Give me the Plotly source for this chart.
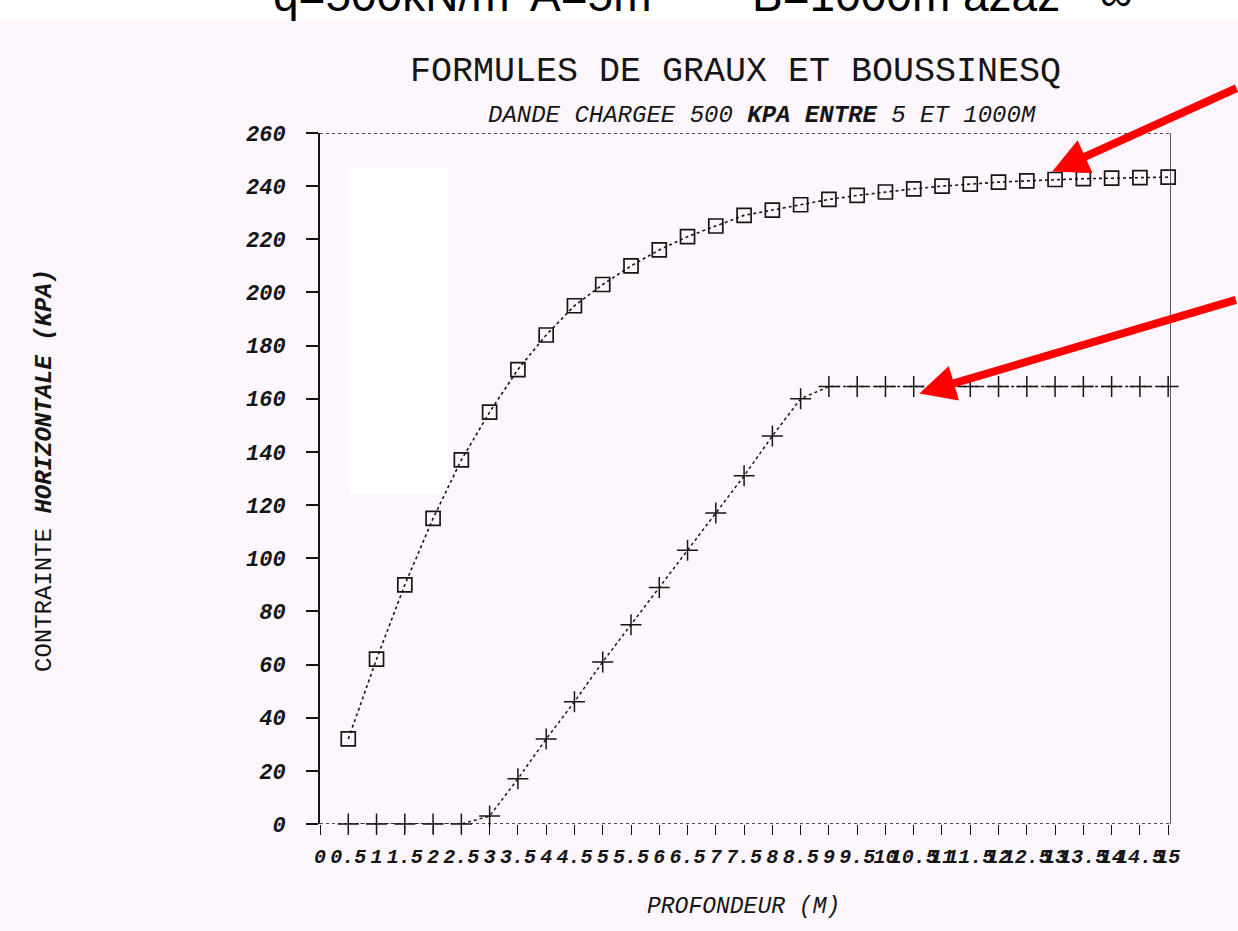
import plotly.graph_objects as go

# Depth (m) and horizontal stress (kPa) for the two formulas
depth = [0.5, 1, 1.5, 2, 2.5, 3, 3.5, 4, 4.5, 5, 5.5, 6, 6.5, 7, 7.5,
         8, 8.5, 9, 9.5, 10, 10.5, 11, 11.5, 12, 12.5, 13, 13.5, 14, 14.5, 15]
boussinesq = [32, 62, 90, 115, 137, 155, 171, 184, 195, 203, 210, 216, 221, 225, 229,
              231, 233, 235, 236.5, 237.8, 239, 240, 240.8, 241.5, 242, 242.5, 242.8, 243, 243.2, 243.4]
graux = [0, 0, 0, 0, 0, 3, 17, 32, 46, 61, 75, 89, 103, 117, 131,
         146, 160, 164.6, 164.6, 164.6, 164.6, 164.6, 164.6, 164.6, 164.6, 164.6, 164.6, 164.6, 164.6, 164.6]

x_ticks = [i * 0.5 for i in range(31)]
x_tick_labels = [("%g" % v) for v in x_ticks]
y_ticks = list(range(0, 261, 20))

BG = "#FDF7FD"
INK = "#151515"
MONO = "Liberation Mono"

fig = go.Figure()

fig.add_trace(go.Scatter(
    x=depth, y=boussinesq, mode="lines+markers",
    line=dict(color=INK, width=1.6, dash="dot"),
    marker=dict(symbol="square-open", size=14, color=INK, line=dict(width=1.7, color=INK)),
    showlegend=False, cliponaxis=False,
))
fig.add_trace(go.Scatter(
    x=depth, y=graux, mode="lines+markers",
    line=dict(color=INK, width=1.5, dash="dot"),
    marker=dict(symbol="cross-thin-open", size=15, color=INK, line=dict(width=1.5, color=INK)),
    showlegend=False, cliponaxis=False,
))

X_MAX = 15.05

shapes = [
    # white strip behind the header line
    dict(type="rect", xref="paper", yref="paper", x0=-1, x1=2, y0=1.165, y1=1.3,
         fillcolor="white", line=dict(width=0), layer="below"),
    # pale patch inside the plot
    dict(type="rect", xref="x", yref="y", x0=0.53, x1=2.25, y0=124, y1=247,
         fillcolor="white", line=dict(width=0), layer="below"),
    # dotted top border
    dict(type="line", xref="x", yref="y", x0=0, x1=X_MAX, y0=260, y1=260,
         line=dict(color=INK, width=1.4, dash="dot")),
    # dotted baseline
    dict(type="line", xref="x", yref="y", x0=0, x1=X_MAX, y0=0, y1=0,
         line=dict(color=INK, width=1.4, dash="dot")),
    # right border
    dict(type="line", xref="x", yref="y", x0=X_MAX, x1=X_MAX, y0=-5, y1=260,
         line=dict(color=INK, width=1.4)),
]

annotations = [
    dict(text="q=500kN/m²", xref="paper", yref="paper", x=-0.057, y=1.159,
         xanchor="left", yanchor="bottom", showarrow=False,
         font=dict(family="Liberation Sans", size=46, color="black")),
    dict(text="A=5m", xref="paper", yref="paper", x=0.245, y=1.159,
         xanchor="left", yanchor="bottom", showarrow=False,
         font=dict(family="Liberation Sans", size=46, color="black")),
    dict(text="B=1000m azaz ~∞", xref="paper", yref="paper", x=0.505, y=1.159,
         xanchor="left", yanchor="bottom", showarrow=False,
         font=dict(family="Liberation Sans", size=46, color="black")),
    dict(text="FORMULES DE GRAUX ET BOUSSINESQ", xref="paper", yref="paper",
         x=0.4888, y=1.0883, xanchor="center", yanchor="middle", showarrow=False,
         font=dict(family=MONO, size=35, color=INK)),
    dict(text="<i>DANDE CHARGEE 500 <b>KPA ENTRE</b> 5 ET 1000M</i>", xref="paper", yref="paper",
         x=0.519, y=1.026, xanchor="center", yanchor="middle", showarrow=False,
         font=dict(family=MONO, size=24, color=INK)),
    dict(text="CONTRAINTE <b><i>HORIZONTALE (KPA)</i></b>", xref="paper", yref="paper",
         x=-0.323, y=0.511, xanchor="center", yanchor="middle", textangle=-90,
         showarrow=False, font=dict(family=MONO, size=24, color=INK)),
    dict(text="<i>PROFONDEUR (M)</i>", xref="paper", yref="paper",
         x=0.498, y=-0.12, xanchor="center", yanchor="middle", showarrow=False,
         font=dict(family=MONO, size=23, color=INK)),
    # red pointers to the two curves
    dict(x=12.95, y=245.5, xref="x", yref="y", text="", showarrow=True,
         ax=188, ay=-84, axref="pixel", ayref="pixel",
         arrowhead=2, arrowsize=0.9, arrowwidth=8, arrowcolor="#FF0000", standoff=0),
    dict(x=10.6, y=162, xref="x", yref="y", text="", showarrow=True,
         ax=318, ay=-94, axref="pixel", ayref="pixel",
         arrowhead=2, arrowsize=0.9, arrowwidth=8, arrowcolor="#FF0000", standoff=0),
]

fig.update_layout(
    width=1238, height=931,
    margin=dict(l=320, r=67, t=133, b=107),
    paper_bgcolor=BG, plot_bgcolor=BG,
    shapes=shapes, annotations=annotations,
    xaxis=dict(
        range=[0, X_MAX], tickmode="array", tickvals=x_ticks, ticktext=x_tick_labels,
        tickangle=0, ticks="outside", ticklen=10, tickwidth=1.3, tickcolor=INK,
        showline=False, showgrid=False, zeroline=False, ticklabelstandoff=4,
        tickfont=dict(family=MONO, size=20, color=INK, style="italic", weight="bold"),
    ),
    yaxis=dict(
        range=[0, 260], tickmode="array", tickvals=y_ticks,
        ticks="outside", ticklen=12, tickwidth=1.5, tickcolor=INK,
        showline=True, linecolor=INK, linewidth=2, mirror=False,
        showgrid=False, zeroline=False, ticklabelstandoff=16,
        tickfont=dict(family=MONO, size=22, color=INK, style="italic", weight="bold"),
    ),
)

fig.write_html("out.html")
